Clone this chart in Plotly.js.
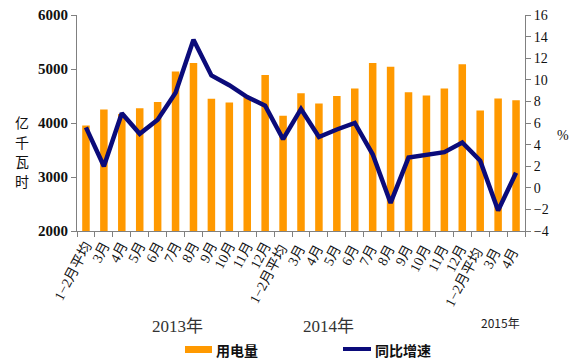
<!DOCTYPE html>
<html>
<head>
<meta charset="utf-8">
<script src="https://cdn.plot.ly/plotly-3.0.1.min.js"></script>
<style>html,body{margin:0;padding:0;background:#fff}#chart{width:574px;height:361px}</style>
</head>
<body>
<div id="chart"></div>
<script>
var categories = ["1−2月平均","3月","4月","5月","6月","7月","8月","9月","10月","11月","12月",
  "1−2月平均 ","3月 ","4月 ","5月 ","6月 ","7月 ","8月 ","9月 ","10月 ","11月 ","12月 ",
  "1−2月平均  ","3月  ","4月  "];
var usage = [3955,4250,4165,4275,4390,4955,5110,4450,4380,4480,4890,
  4135,4550,4360,4500,4640,5110,5040,4570,4510,4640,5090,
  4230,4455,4420];
var growth = [5.6,2.0,6.9,5.0,6.3,8.8,13.7,10.4,9.5,8.4,7.6,
  4.5,7.3,4.7,5.4,6.0,3.1,-1.4,2.8,3.1,3.3,4.2,
  2.5,-2.1,1.4];
var yearLabels = ["2013年","2014年","2015年"];
var seriesNames = ["用电量","同比增速"];
var yTitleChars = ["亿","千","瓦","时"];

var serif = "'Liberation Serif','Times New Roman','Noto Sans CJK SC',serif";
var cjk = "'Noto Sans CJK SC',sans-serif";

function px(x){return (x-77)/448;}
function py(y){return (231-y)/216;}

var traces = [
  {type:"bar", x:categories, y:usage, name:seriesNames[0], marker:{color:"#FF9900"}, yaxis:"y", showlegend:false},
  {type:"scatter", mode:"lines", x:categories, y:growth, name:seriesNames[1], line:{color:"#0B0B7A", width:4.5}, yaxis:"y2", showlegend:false}
];

var annotations = [
  {xref:"paper", yref:"paper", x:px(563), y:py(135), text:"%", showarrow:false, xanchor:"center", yanchor:"middle",
    font:{family:serif, size:14, color:"#111"}},
  {xref:"paper", yref:"paper", x:px(177), y:py(326), text:yearLabels[0], showarrow:false, xanchor:"center", yanchor:"middle",
    font:{family:serif, size:17, color:"#333"}},
  {xref:"paper", yref:"paper", x:px(328), y:py(326), text:yearLabels[1], showarrow:false, xanchor:"center", yanchor:"middle",
    font:{family:serif, size:17, color:"#333"}},
  {xref:"paper", yref:"paper", x:px(500), y:py(322), text:yearLabels[2], showarrow:false, xanchor:"center", yanchor:"middle",
    font:{family:cjk, size:12, color:"#222"}},
  {xref:"paper", yref:"paper", x:px(214), y:py(350), text:seriesNames[0], showarrow:false, xanchor:"left", yanchor:"middle",
    font:{family:cjk, size:14, color:"#111", weight:"bold"}},
  {xref:"paper", yref:"paper", x:px(373), y:py(350), text:seriesNames[1], showarrow:false, xanchor:"left", yanchor:"middle",
    font:{family:cjk, size:14, color:"#111", weight:"bold"}}
];
var charY = [122,141.5,161,180.5];
yTitleChars.forEach(function(c,i){
  annotations.push({xref:"paper", yref:"paper", x:px(22), y:py(charY[i]), text:c, showarrow:false,
    xanchor:"center", yanchor:"middle", font:{family:cjk, size:14, color:"#111"}});
});

var layout = {
  width:574, height:361,
  margin:{l:77, r:49, t:15, b:130},
  paper_bgcolor:"#fff", plot_bgcolor:"#fff",
  bargap:0.58,
  xaxis:{type:"category", tickmode:"linear", tick0:0, dtick:1, tickangle:-62, tickson:"boundaries", ticks:"outside", ticklen:5, tickcolor:"#808080",
    showline:true, linecolor:"#808080", linewidth:1, showgrid:false, zeroline:false,
    tickfont:{family:serif, size:14, color:"#111"}},
  yaxis:{range:[2000,6000], dtick:1000, ticks:"outside", ticklen:5, tickcolor:"#808080",
    showline:true, linecolor:"#808080", showgrid:false, zeroline:false,
    tickfont:{family:serif, size:15, color:"#111", weight:"bold"}},
  yaxis2:{range:[-4,16], dtick:2, overlaying:"y", side:"right", ticks:"outside", ticklen:5, tickcolor:"#808080",
    showline:true, linecolor:"#808080", showgrid:false, zeroline:false,
    tickfont:{family:serif, size:14, color:"#111"}},
  annotations:annotations,
  shapes:[
    {type:"rect", xref:"paper", yref:"paper", x0:px(185), x1:px(212), y0:py(353), y1:py(346),
      fillcolor:"#FF9900", line:{width:0}},
    {type:"line", xref:"paper", yref:"paper", x0:px(343), x1:px(371), y0:py(349), y1:py(349),
      line:{color:"#0B0B7A", width:4}}
  ]
};

Plotly.newPlot("chart", traces, layout, {displayModeBar:false, staticPlot:true});
</script>
</body>
</html>
